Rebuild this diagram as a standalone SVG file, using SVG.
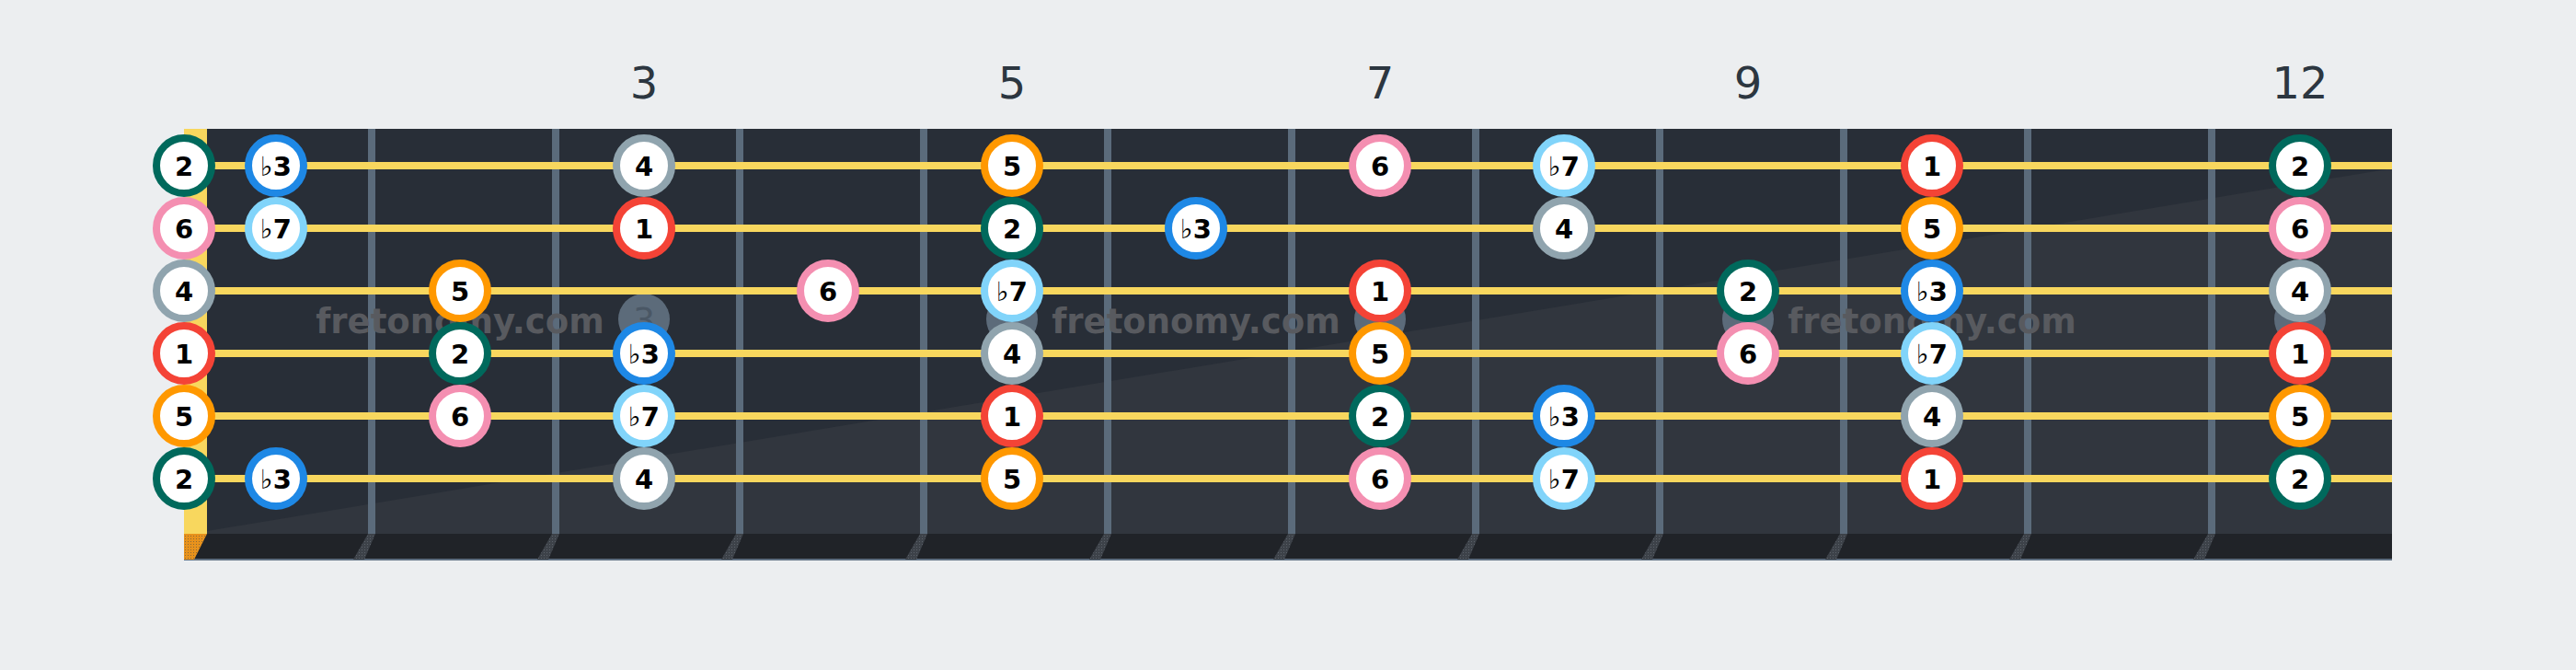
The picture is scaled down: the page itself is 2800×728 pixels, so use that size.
<svg xmlns="http://www.w3.org/2000/svg" width="2800" height="728" viewBox="0 0 2800 728">
<defs>
<style>
.bg{fill:#eceef0}
.board{fill:#282e37}
.shade{fill:#31363e}
.fret{fill:#5b6b7b}
.str{stroke:#f8d75e;stroke-width:8}
.fnum{font-family:"DejaVu Sans","Liberation Sans",sans-serif;font-size:48px;fill:#2c3640;text-anchor:middle}
.wm{font-family:"DejaVu Sans","Liberation Sans",sans-serif;font-weight:bold;font-size:37px;fill:#585a5f;text-anchor:middle}
.mark{fill:#5c6b7a}
.marktx{font-family:"DejaVu Sans","Liberation Sans",sans-serif;font-size:38px;fill:#4a5765;text-anchor:middle}
.n circle{fill:#ffffff;stroke-width:8}
.n text{font-family:"DejaVu Sans","Liberation Sans",sans-serif;font-weight:bold;font-size:29px;fill:#000;text-anchor:middle}
.fl{font-weight:normal}
.c1 circle{stroke:#f44336}
.c2 circle{stroke:#00695c}
.c3 circle{stroke:#1e88e5}
.c4 circle{stroke:#90a4ae}
.c5 circle{stroke:#ff9800}
.c6 circle{stroke:#f48fb1}
.c7 circle{stroke:#81d4fa}
</style>
<pattern id="dotsO" width="3" height="3" patternUnits="userSpaceOnUse">
<rect width="3" height="3" fill="#e8921c"/>
<rect width="1" height="1" fill="#8a6a3a"/>
</pattern>
<pattern id="dotsG" width="3" height="3" patternUnits="userSpaceOnUse">
<rect width="3" height="3" fill="#3d4249"/>
<rect width="1" height="1" fill="#5a6068"/>
</pattern>
</defs>
<rect class="bg" x="0" y="0" width="2800" height="728"/>

<g id="fret-numbers">
<text class="fnum" x="700" y="107">3</text>
<text class="fnum" x="1100" y="107">5</text>
<text class="fnum" x="1500" y="107">7</text>
<text class="fnum" x="1900" y="107">9</text>
<text class="fnum" x="2500" y="107">12</text>
</g>

<g id="fretboard">
<rect class="board" x="225" y="140" width="2375" height="440"/>
<polygon class="shade" points="225,577 2600,183 2600,580 225,580"/>
<rect x="200" y="140" width="25" height="440" fill="#f8d75e"/>
<rect x="200" y="580" width="2400" height="28" fill="#202328"/>
<rect x="200" y="607" width="2400" height="2" fill="#5e6e80"/>
<polygon points="200,580 225,580 211,608 200,608" fill="url(#dotsO)"/>
<g id="fret-wires">
<rect class="fret" x="400" y="140" width="8" height="440"/>
<rect class="fret" x="600" y="140" width="8" height="440"/>
<rect class="fret" x="800" y="140" width="8" height="440"/>
<rect class="fret" x="1000" y="140" width="8" height="440"/>
<rect class="fret" x="1200" y="140" width="8" height="440"/>
<rect class="fret" x="1400" y="140" width="8" height="440"/>
<rect class="fret" x="1600" y="140" width="8" height="440"/>
<rect class="fret" x="1800" y="140" width="8" height="440"/>
<rect class="fret" x="2000" y="140" width="8" height="440"/>
<rect class="fret" x="2200" y="140" width="8" height="440"/>
<rect class="fret" x="2400" y="140" width="8" height="440"/>
</g>
<g id="fret-sides" fill="url(#dotsG)">
<polygon points="400,580 408,580 396,608 384,608"/>
<polygon points="600,580 608,580 596,608 584,608"/>
<polygon points="800,580 808,580 796,608 784,608"/>
<polygon points="1000,580 1008,580 996,608 984,608"/>
<polygon points="1200,580 1208,580 1196,608 1184,608"/>
<polygon points="1400,580 1408,580 1396,608 1384,608"/>
<polygon points="1600,580 1608,580 1596,608 1584,608"/>
<polygon points="1800,580 1808,580 1796,608 1784,608"/>
<polygon points="2000,580 2008,580 1996,608 1984,608"/>
<polygon points="2200,580 2208,580 2196,608 2184,608"/>
<polygon points="2400,580 2408,580 2396,608 2384,608"/>
</g>
</g>

<g id="markers">
<circle class="mark" cx="700" cy="347" r="28"/>
<text class="marktx" x="700" y="361">3</text>
<circle class="mark" cx="1100" cy="347" r="28"/>
<circle class="mark" cx="1500" cy="347" r="28"/>
<circle class="mark" cx="1900" cy="347" r="28"/>
<circle class="mark" cx="2500" cy="347" r="28"/>
</g>

<g id="watermarks">
<text class="wm" x="500" y="362">fretonomy.com</text>
<text class="wm" x="1300" y="362">fretonomy.com</text>
<text class="wm" x="2100" y="362">fretonomy.com</text>
</g>

<g id="strings">
<line class="str" x1="225" y1="180" x2="2600" y2="180"/>
<line class="str" x1="225" y1="248" x2="2600" y2="248"/>
<line class="str" x1="225" y1="316" x2="2600" y2="316"/>
<line class="str" x1="225" y1="384" x2="2600" y2="384"/>
<line class="str" x1="225" y1="452" x2="2600" y2="452"/>
<line class="str" x1="225" y1="520" x2="2600" y2="520"/>
</g>

<g id="notes">
<!-- string 1 -->
<g id="s1-f0" class="n c2"><circle cx="200" cy="180" r="30"/><text x="200" y="190.5">2</text></g>
<g id="s1-f1" class="n c3"><circle cx="300" cy="180" r="30"/><text x="300" y="190.5"><tspan class="fl">♭</tspan>3</text></g>
<g id="s1-f3" class="n c4"><circle cx="700" cy="180" r="30"/><text x="700" y="190.5">4</text></g>
<g id="s1-f5" class="n c5"><circle cx="1100" cy="180" r="30"/><text x="1100" y="190.5">5</text></g>
<g id="s1-f7" class="n c6"><circle cx="1500" cy="180" r="30"/><text x="1500" y="190.5">6</text></g>
<g id="s1-f8" class="n c7"><circle cx="1700" cy="180" r="30"/><text x="1700" y="190.5"><tspan class="fl">♭</tspan>7</text></g>
<g id="s1-f10" class="n c1"><circle cx="2100" cy="180" r="30"/><text x="2100" y="190.5">1</text></g>
<g id="s1-f12" class="n c2"><circle cx="2500" cy="180" r="30"/><text x="2500" y="190.5">2</text></g>
<!-- string 2 -->
<g id="s2-f0" class="n c6"><circle cx="200" cy="248" r="30"/><text x="200" y="258.5">6</text></g>
<g id="s2-f1" class="n c7"><circle cx="300" cy="248" r="30"/><text x="300" y="258.5"><tspan class="fl">♭</tspan>7</text></g>
<g id="s2-f3" class="n c1"><circle cx="700" cy="248" r="30"/><text x="700" y="258.5">1</text></g>
<g id="s2-f5" class="n c2"><circle cx="1100" cy="248" r="30"/><text x="1100" y="258.5">2</text></g>
<g id="s2-f6" class="n c3"><circle cx="1300" cy="248" r="30"/><text x="1300" y="258.5"><tspan class="fl">♭</tspan>3</text></g>
<g id="s2-f8" class="n c4"><circle cx="1700" cy="248" r="30"/><text x="1700" y="258.5">4</text></g>
<g id="s2-f10" class="n c5"><circle cx="2100" cy="248" r="30"/><text x="2100" y="258.5">5</text></g>
<g id="s2-f12" class="n c6"><circle cx="2500" cy="248" r="30"/><text x="2500" y="258.5">6</text></g>
<!-- string 3 -->
<g id="s3-f0" class="n c4"><circle cx="200" cy="316" r="30"/><text x="200" y="326.5">4</text></g>
<g id="s3-f2" class="n c5"><circle cx="500" cy="316" r="30"/><text x="500" y="326.5">5</text></g>
<g id="s3-f4" class="n c6"><circle cx="900" cy="316" r="30"/><text x="900" y="326.5">6</text></g>
<g id="s3-f5" class="n c7"><circle cx="1100" cy="316" r="30"/><text x="1100" y="326.5"><tspan class="fl">♭</tspan>7</text></g>
<g id="s3-f7" class="n c1"><circle cx="1500" cy="316" r="30"/><text x="1500" y="326.5">1</text></g>
<g id="s3-f9" class="n c2"><circle cx="1900" cy="316" r="30"/><text x="1900" y="326.5">2</text></g>
<g id="s3-f10" class="n c3"><circle cx="2100" cy="316" r="30"/><text x="2100" y="326.5"><tspan class="fl">♭</tspan>3</text></g>
<g id="s3-f12" class="n c4"><circle cx="2500" cy="316" r="30"/><text x="2500" y="326.5">4</text></g>
<!-- string 4 -->
<g id="s4-f0" class="n c1"><circle cx="200" cy="384" r="30"/><text x="200" y="394.5">1</text></g>
<g id="s4-f2" class="n c2"><circle cx="500" cy="384" r="30"/><text x="500" y="394.5">2</text></g>
<g id="s4-f3" class="n c3"><circle cx="700" cy="384" r="30"/><text x="700" y="394.5"><tspan class="fl">♭</tspan>3</text></g>
<g id="s4-f5" class="n c4"><circle cx="1100" cy="384" r="30"/><text x="1100" y="394.5">4</text></g>
<g id="s4-f7" class="n c5"><circle cx="1500" cy="384" r="30"/><text x="1500" y="394.5">5</text></g>
<g id="s4-f9" class="n c6"><circle cx="1900" cy="384" r="30"/><text x="1900" y="394.5">6</text></g>
<g id="s4-f10" class="n c7"><circle cx="2100" cy="384" r="30"/><text x="2100" y="394.5"><tspan class="fl">♭</tspan>7</text></g>
<g id="s4-f12" class="n c1"><circle cx="2500" cy="384" r="30"/><text x="2500" y="394.5">1</text></g>
<!-- string 5 -->
<g id="s5-f0" class="n c5"><circle cx="200" cy="452" r="30"/><text x="200" y="462.5">5</text></g>
<g id="s5-f2" class="n c6"><circle cx="500" cy="452" r="30"/><text x="500" y="462.5">6</text></g>
<g id="s5-f3" class="n c7"><circle cx="700" cy="452" r="30"/><text x="700" y="462.5"><tspan class="fl">♭</tspan>7</text></g>
<g id="s5-f5" class="n c1"><circle cx="1100" cy="452" r="30"/><text x="1100" y="462.5">1</text></g>
<g id="s5-f7" class="n c2"><circle cx="1500" cy="452" r="30"/><text x="1500" y="462.5">2</text></g>
<g id="s5-f8" class="n c3"><circle cx="1700" cy="452" r="30"/><text x="1700" y="462.5"><tspan class="fl">♭</tspan>3</text></g>
<g id="s5-f10" class="n c4"><circle cx="2100" cy="452" r="30"/><text x="2100" y="462.5">4</text></g>
<g id="s5-f12" class="n c5"><circle cx="2500" cy="452" r="30"/><text x="2500" y="462.5">5</text></g>
<!-- string 6 -->
<g id="s6-f0" class="n c2"><circle cx="200" cy="520" r="30"/><text x="200" y="530.5">2</text></g>
<g id="s6-f1" class="n c3"><circle cx="300" cy="520" r="30"/><text x="300" y="530.5"><tspan class="fl">♭</tspan>3</text></g>
<g id="s6-f3" class="n c4"><circle cx="700" cy="520" r="30"/><text x="700" y="530.5">4</text></g>
<g id="s6-f5" class="n c5"><circle cx="1100" cy="520" r="30"/><text x="1100" y="530.5">5</text></g>
<g id="s6-f7" class="n c6"><circle cx="1500" cy="520" r="30"/><text x="1500" y="530.5">6</text></g>
<g id="s6-f8" class="n c7"><circle cx="1700" cy="520" r="30"/><text x="1700" y="530.5"><tspan class="fl">♭</tspan>7</text></g>
<g id="s6-f10" class="n c1"><circle cx="2100" cy="520" r="30"/><text x="2100" y="530.5">1</text></g>
<g id="s6-f12" class="n c2"><circle cx="2500" cy="520" r="30"/><text x="2500" y="530.5">2</text></g>
</g>
</svg>
